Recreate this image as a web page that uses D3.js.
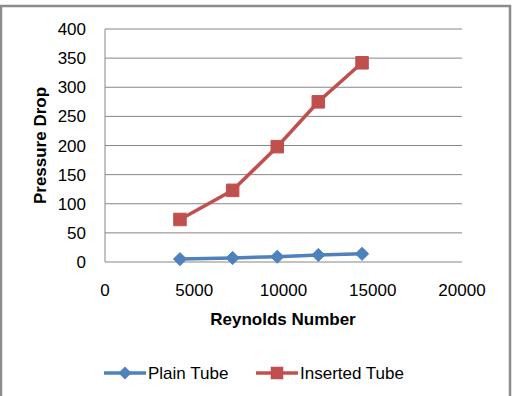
<!DOCTYPE html>
<html>
<head>
    <meta charset="utf-8">
    <title>Pressure Drop vs Reynolds Number</title>
    <script src="https://d3js.org/d3.v7.min.js"></script>
    <style>
        body { margin: 0; background: #fff; }
        text { font-family: "Liberation Sans", Arial, sans-serif; fill: #000; }
        .grid line { stroke: #868686; stroke-width: 1px; }
        .tick-label { font-size: 17px; }
        .title { font-size: 17px; font-weight: bold; }
    </style>
</head>
<body>
    <script type="text/javascript">
        // Data
        let reynolds = [4200, 7150, 9650, 11950, 14400];
        let plainTube = [5, 7, 9, 12, 14];
        let insertedTube = [73, 123, 198, 275, 342];
        let xTicks = [0, 5000, 10000, 15000, 20000];
        let yTicks = [0, 50, 100, 150, 200, 250, 300, 350, 400];
        let seriesNames = ["Plain Tube", "Inserted Tube"];
        let seriesColors = ["#4f81bd", "#c0504d"];

        let width = 513, height = 396;
        let plot = {left: 105, right: 462, top: 29, bottom: 262};

        let svg = d3.select("body").append("svg")
            .attr("width", width)
            .attr("height", height);

        // outer chart border (bottom runs off the picture)
        svg.append("rect")
            .attr("x", 1).attr("y", 6)
            .attr("width", 509).attr("height", 400)
            .attr("fill", "none")
            .attr("stroke", "#8c8c8c")
            .attr("stroke-width", 2.5);

        let x = d3.scaleLinear().domain([0, 20000]).range([plot.left, plot.right]);
        let y = d3.scaleLinear().domain([0, 400]).range([plot.bottom, plot.top]);

        // horizontal gridlines
        svg.append("g").attr("class", "grid")
            .selectAll("line")
            .data(yTicks)
            .join("line")
            .attr("x1", plot.left).attr("x2", plot.right)
            .attr("y1", d => y(d)).attr("y2", d => y(d));

        // left axis line
        svg.append("line")
            .attr("x1", plot.left).attr("x2", plot.left)
            .attr("y1", plot.top).attr("y2", plot.bottom)
            .attr("stroke", "#868686");

        // tick labels
        svg.append("g").selectAll("text")
            .data(yTicks)
            .join("text")
            .attr("class", "tick-label")
            .attr("x", plot.left - 19)
            .attr("y", d => y(d) + 6)
            .attr("text-anchor", "end")
            .text(d => d);

        svg.append("g").selectAll("text")
            .data(xTicks)
            .join("text")
            .attr("class", "tick-label")
            .attr("x", d => x(d))
            .attr("y", 296)
            .attr("text-anchor", "middle")
            .text(d => d);

        // axis titles
        svg.append("text")
            .attr("class", "title")
            .attr("transform", "translate(46," + ((plot.top + plot.bottom) / 2) + ") rotate(-90)")
            .attr("text-anchor", "middle")
            .text("Pressure Drop");

        svg.append("text")
            .attr("class", "title")
            .attr("x", 283).attr("y", 325)
            .attr("text-anchor", "middle")
            .text("Reynolds Number");

        let series = [plainTube, insertedTube].map((vals, i) =>
            ({name: seriesNames[i], color: seriesColors[i],
              points: vals.map((v, j) => [reynolds[j], v])}));

        let line = d3.line().x(d => x(d[0])).y(d => y(d[1]));
        let diamond = d3.symbol().type(d3.symbolDiamond2).size(110);
        let square = d3.symbol().type(d3.symbolSquare2).size(200);

        series.forEach((s, i) => {
            svg.append("path")
                .attr("d", line(s.points))
                .attr("fill", "none")
                .attr("stroke", s.color)
                .attr("stroke-width", 3.5);
            svg.append("g").selectAll("path")
                .data(s.points)
                .join("path")
                .attr("transform", d => "translate(" + x(d[0]) + "," + y(d[1]) + ")")
                .attr("d", i === 0 ? diamond() : square())
                .attr("fill", s.color)
                .attr("stroke", s.color);
        });

        // legend
        let legendX = [104, 256];
        let legend = svg.append("g").selectAll("g")
            .data(series)
            .join("g")
            .attr("transform", (d, i) => "translate(" + legendX[i] + ",373)");
        legend.append("line")
            .attr("x1", 0).attr("x2", 42)
            .attr("stroke", d => d.color)
            .attr("stroke-width", 3.5);
        legend.append("path")
            .attr("transform", "translate(21,0)")
            .attr("d", (d, i) => i === 0 ? diamond() : square())
            .attr("fill", d => d.color);
        legend.append("text")
            .attr("class", "tick-label")
            .attr("x", 44).attr("y", 6)
            .text(d => d.name);
    </script>
</body>
</html>
